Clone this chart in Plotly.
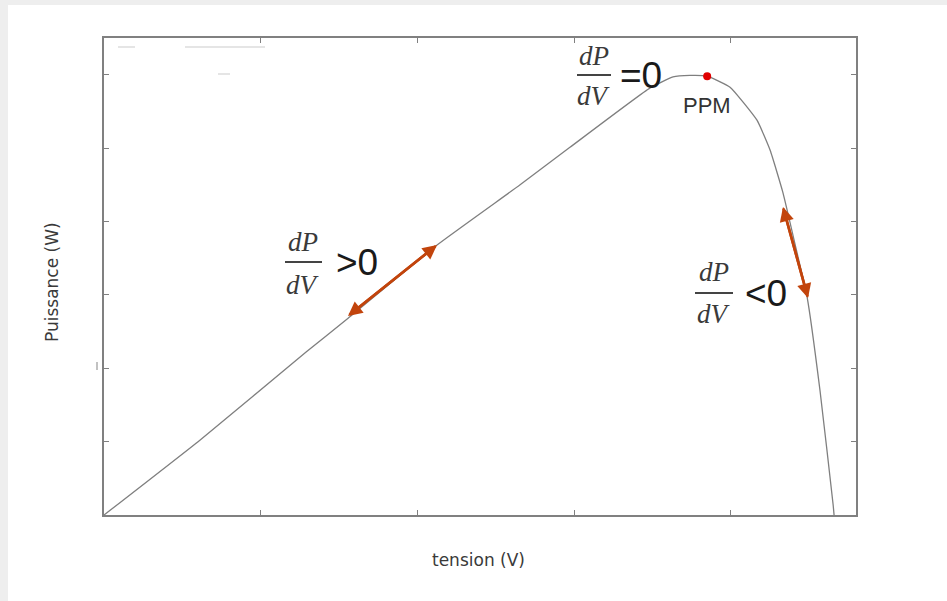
import plotly.graph_objects as go

# Data
tension = [0, 3.06, 6.45, 7.79, 10.63, 13.28, 14.87, 17.43, 18.16, 18.70, 19.25,
           19.98, 20.84, 21.26, 21.67, 22.06, 22.44, 22.85, 23.27, 23.30]
puissance = [0, 1.02, 2.22, 2.68, 3.68, 4.50, 5.01, 5.82, 5.97, 5.99, 5.98,
             5.83, 5.38, 4.97, 4.39, 3.68, 2.97, 1.70, 0.14, 0]
ppm_v = [19.25]
ppm_p = [5.98]

X_RANGE = [0, 24]
Y_RANGE = [0, 6.5]

# plot area geometry (px)
L, R, T, B = 104, 856, 38, 515
W, H = 947, 601

def dx(px):
    return X_RANGE[0] + (px - L) / (R - L) * (X_RANGE[1] - X_RANGE[0])

def dy(py):
    return Y_RANGE[0] + (B - py) / (B - T) * (Y_RANGE[1] - Y_RANGE[0])

def px_(px):
    return (px - L) / (R - L)

def py_(py):
    return (B - py) / (B - T)

fig = go.Figure()
fig.add_trace(go.Scatter(x=tension, y=puissance, mode="lines",
                         line=dict(color="#7f7f7f", width=1.3, shape="spline", smoothing=0.4),
                         hoverinfo="skip", showlegend=False))
fig.add_trace(go.Scatter(x=ppm_v, y=ppm_p, mode="markers",
                         marker=dict(color="#e00000", size=8), showlegend=False))

ARROW = "#c2440c"
annotations = []
# double-headed arrows
for (x0, y0, x1, y1) in [(348, 316, 437, 245), (783, 207, 808, 298)]:
    for (ax, ay, hx, hy) in [(x0, y0, x1, y1), (x1, y1, x0, y0)]:
        annotations.append(dict(x=dx(hx), y=dy(hy), ax=dx(ax), ay=dy(ay),
                                xref="x", yref="y", axref="x", ayref="y",
                                showarrow=True, arrowhead=2, arrowsize=1.1,
                                arrowwidth=2.6, arrowcolor=ARROW, text=""))


def label(x, y, text, family, size, color, angle=0):
    annotations.append(dict(x=px_(x), y=py_(y), xref="paper", yref="paper",
                            xanchor="center", yanchor="middle", text=text,
                            showarrow=False, textangle=angle,
                            font=dict(family=family, size=size, color=color)))


SERIF = "Liberation Serif"
frac_color = "#3a3a3a"
fracs = [
    # (center x, top y, bar y, bottom y, bar x0, bar x1, rhs text, rhs x)
    (594, 56, 75, 96, 577, 611, "=0", 641),
    (303, 242, 262, 285, 285, 322, ">0", 357),
    (714, 272, 293, 314, 695, 733, "<0", 766),
]
shapes = []
for cx, ty, by, bty, bx0, bx1, rhs, rx in fracs:
    label(cx, ty, "<i>dP</i>", SERIF, 27, frac_color)
    label(cx, bty, "<i>dV</i>", SERIF, 27, frac_color)
    label(rx, by, rhs, "Liberation Sans", 37, "#1a1a1a")
    shapes.append(dict(type="line", xref="paper", yref="paper",
                       x0=px_(bx0), x1=px_(bx1), y0=py_(by), y1=py_(by),
                       line=dict(color="#444444", width=2)))

label(707, 105, "PPM", "Liberation Sans", 22, "#333333")
label(478, 560, "tension (V)", "DejaVu Sans", 17, "#3a3a3a")
label(52, 282, "Puissance (W)", "DejaVu Sans", 17, "#3a3a3a", -90)

# outer page frame
shapes.insert(0, dict(type="rect", xref="paper", yref="paper", layer="below",
                      x0=px_(8), x1=px_(W + 5), y0=py_(5), y1=py_(H + 5),
                      fillcolor="white", line=dict(width=0)))
# faint scanning artefacts
for (a, b, c, d) in [(118, 47, 135, 47), (185, 47, 265, 47), (218, 74, 230, 74)]:
    shapes.append(dict(type="line", xref="paper", yref="paper",
                       x0=px_(a), x1=px_(c), y0=py_(b), y1=py_(d),
                       line=dict(color="#dddddd", width=1.5)))
shapes.append(dict(type="line", xref="paper", yref="paper",
                   x0=px_(97), x1=px_(97), y0=py_(362), y1=py_(370),
                   line=dict(color="#999999", width=1.2)))

axis_common = dict(showline=True, linecolor="#808080", linewidth=1.5, mirror="ticks",
                   ticks="inside", ticklen=5, tickcolor="#808080", tickwidth=1.2,
                   showticklabels=False, showgrid=False, zeroline=False)

fig.update_layout(
    width=W, height=H,
    margin=dict(l=L, r=W - R, t=T, b=H - B),
    paper_bgcolor="#eeeeee", plot_bgcolor="white",
    xaxis=dict(range=X_RANGE, dtick=5, tick0=0, **axis_common),
    yaxis=dict(range=Y_RANGE, dtick=1, tick0=0, **axis_common),
    annotations=annotations, shapes=shapes,
    showlegend=False,
)

fig.write_html("out.html", config={"displayModeBar": False},
               post_script="document.body.style.margin='0';")
